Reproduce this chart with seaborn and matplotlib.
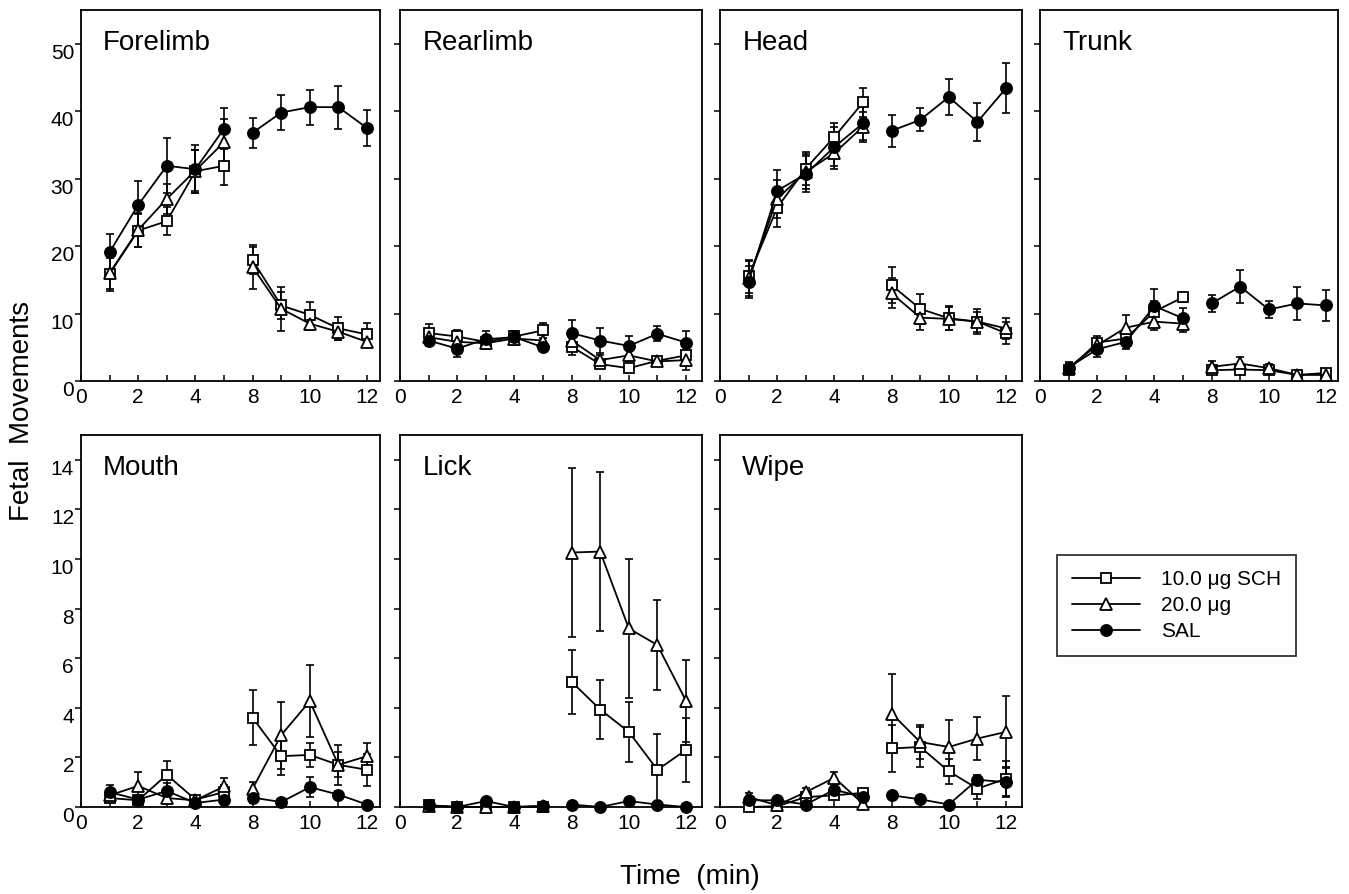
import numpy as np
import pandas as pd
import matplotlib
matplotlib.use("Agg")
import matplotlib.pyplot as plt
import seaborn as sns
from matplotlib.lines import Line2D

sns.set_style("ticks")
plt.rcParams['font.family'] = ['Liberation Sans', 'DejaVu Sans']
plt.rcParams['text.color'] = 'black'
plt.rcParams['axes.labelcolor'] = 'black'
plt.rcParams['xtick.color'] = 'black'
plt.rcParams['ytick.color'] = 'black'
plt.rcParams['axes.edgecolor'] = 'black'

# ---------------- data ----------------
times = [1, 2, 3, 4, 5, 8, 9, 10, 11, 12]
tick_labels = ["0", "2", "4", "8", "10", "12"]
tick_times = [0, 2, 4, 8, 10, 12]
groups = ["10.0 μg SCH", "20.0 μg", "SAL"]
panels = ["Forelimb", "Rearlimb", "Head", "Trunk", "Mouth", "Lick", "Wipe"]

forelimb_sch10 = [15.9, 22.3, 23.7, 31.1, 31.9, 17.9, 11.2, 9.8, 7.8, 6.9]
forelimb_sch10_err = [2.3, 2.5, 2.1, 3.2, 2.8, 2.0, 2.0, 1.9, 1.7, 1.7]
forelimb_sch20 = [16.0, 22.4, 27.0, 31.2, 35.4, 16.9, 10.7, 8.5, 7.3, 5.8]
forelimb_sch20_err = [2.6, 2.5, 2.2, 3.0, 3.5, 3.2, 3.3, 1.0, 1.2, 0.8]
forelimb_sal = [19.1, 26.1, 31.9, 31.4, 37.4, 36.8, 39.8, 40.6, 40.6, 37.5]
forelimb_sal_err = [2.7, 3.5, 4.1, 3.6, 3.0, 2.2, 2.6, 2.6, 3.2, 2.7]

rearlimb_sch10 = [7.1, 6.6, 5.8, 6.6, 7.5, 5.1, 2.5, 1.9, 3.0, 3.8]
rearlimb_sch10_err = [1.4, 1.0, 0.8, 0.8, 1.1, 1.3, 0.5, 0.5, 0.5, 1.2]
rearlimb_sch20 = [6.5, 5.8, 5.6, 6.3, 6.0, 6.0, 3.1, 3.8, 2.9, 3.1]
rearlimb_sch20_err = [1.0, 1.0, 0.8, 0.9, 0.8, 1.2, 0.8, 0.9, 0.6, 1.4]
rearlimb_sal = [6.0, 4.8, 6.2, 6.5, 5.0, 7.1, 6.0, 5.2, 7.0, 5.7]
rearlimb_sal_err = [0.8, 1.3, 1.2, 0.9, 0.5, 1.9, 1.8, 1.4, 1.1, 1.7]

head_sch10 = [15.5, 25.7, 31.5, 36.2, 41.3, 14.2, 10.7, 9.3, 8.8, 7.1]
head_sch10_err = [2.4, 2.8, 2.5, 2.1, 2.2, 2.7, 2.2, 1.8, 1.8, 1.6]
head_sch20 = [15.2, 27.0, 31.0, 33.8, 37.7, 13.0, 9.4, 9.2, 8.8, 7.8]
head_sch20_err = [2.6, 2.8, 2.6, 2.4, 2.2, 2.2, 1.8, 1.7, 1.5, 1.5]
head_sal = [14.7, 28.2, 30.7, 34.7, 38.2, 37.1, 38.7, 42.1, 38.4, 43.4]
head_sal_err = [2.4, 3.1, 2.7, 2.9, 2.5, 2.4, 1.7, 2.7, 2.8, 3.7]

trunk_sch10 = [1.7, 5.7, 6.3, 10.3, 12.4, 1.6, 1.7, 1.6, 0.9, 1.2]
trunk_sch10_err = [0.6, 1.0, 1.0, 1.5, 0.7, 0.5, 0.5, 0.5, 0.3, 0.4]
trunk_sch20 = [2.0, 5.3, 7.9, 8.8, 8.5, 2.1, 2.6, 1.9, 0.9, 0.9]
trunk_sch20_err = [0.7, 1.0, 1.9, 1.3, 1.3, 0.8, 1.0, 0.6, 0.3, 0.3]
trunk_sal = [2.0, 4.7, 5.8, 11.1, 9.3, 11.5, 14.0, 10.6, 11.5, 11.2]
trunk_sal_err = [0.8, 1.1, 1.0, 2.5, 1.5, 1.2, 2.5, 1.2, 2.4, 2.3]

mouth_sch10 = [0.36, 0.27, 1.3, 0.3, 0.6, 3.6, 2.05, 2.1, 1.7, 1.5]
mouth_sch10_err = [0.1, 0.1, 0.55, 0.1, 0.3, 1.1, 0.75, 0.5, 0.5, 0.65]
mouth_sch20 = [0.47, 0.85, 0.36, 0.27, 0.83, 0.74, 2.9, 4.27, 1.7, 2.05]
mouth_sch20_err = [0.2, 0.55, 0.1, 0.05, 0.35, 0.25, 1.35, 1.45, 0.8, 0.55]
mouth_sal = [0.6, 0.3, 0.65, 0.16, 0.3, 0.38, 0.2, 0.8, 0.5, 0.1]
mouth_sal_err = [0.3, 0.1, 0.3, 0.1, 0.15, 0.2, 0.1, 0.4, 0.15, 0.05]

lick_sch10 = [0.07, 0.0, 0.0, 0.0, 0.0, 5.05, 3.93, 3.03, 1.5, 2.3]
lick_sch10_err = [0.1, 0.05, 0.05, 0.05, 0.05, 1.3, 1.2, 1.2, 1.45, 1.3]
lick_sch20 = [0.05, 0.0, 0.0, 0.0, 0.05, 10.26, 10.3, 7.2, 6.53, 4.28]
lick_sch20_err = [0.1, 0.05, 0.05, 0.05, 0.1, 3.4, 3.2, 2.8, 1.8, 1.65]
lick_sal = [0.07, 0.0, 0.24, 0.0, 0.03, 0.1, 0.0, 0.24, 0.1, 0.0]
lick_sal_err = [0.05, 0.05, 0.05, 0.05, 0.05, 0.05, 0.05, 0.05, 0.05, 0.05]

wipe_sch10 = [0.0, 0.03, 0.4, 0.47, 0.57, 2.36, 2.42, 1.44, 0.74, 1.14]
wipe_sch10_err = [0.05, 0.05, 0.1, 0.15, 0.15, 0.95, 0.8, 0.5, 0.4, 0.7]
wipe_sch20 = [0.4, 0.07, 0.6, 1.18, 0.13, 3.77, 2.62, 2.42, 2.76, 3.03]
wipe_sch20_err = [0.15, 0.05, 0.15, 0.23, 0.05, 1.6, 0.7, 1.1, 0.87, 1.45]
wipe_sal = [0.27, 0.27, 0.1, 0.7, 0.4, 0.47, 0.31, 0.1, 1.1, 1.0]
wipe_sal_err = [0.1, 0.05, 0.05, 0.2, 0.1, 0.1, 0.1, 0.05, 0.2, 0.6]

series = {
    "Forelimb": [(forelimb_sch10, forelimb_sch10_err), (forelimb_sch20, forelimb_sch20_err), (forelimb_sal, forelimb_sal_err)],
    "Rearlimb": [(rearlimb_sch10, rearlimb_sch10_err), (rearlimb_sch20, rearlimb_sch20_err), (rearlimb_sal, rearlimb_sal_err)],
    "Head": [(head_sch10, head_sch10_err), (head_sch20, head_sch20_err), (head_sal, head_sal_err)],
    "Trunk": [(trunk_sch10, trunk_sch10_err), (trunk_sch20, trunk_sch20_err), (trunk_sal, trunk_sal_err)],
    "Mouth": [(mouth_sch10, mouth_sch10_err), (mouth_sch20, mouth_sch20_err), (mouth_sal, mouth_sal_err)],
    "Lick": [(lick_sch10, lick_sch10_err), (lick_sch20, lick_sch20_err), (lick_sal, lick_sal_err)],
    "Wipe": [(wipe_sch10, wipe_sch10_err), (wipe_sch20, wipe_sch20_err), (wipe_sal, wipe_sal_err)],
}


# broken time axis: minutes 6 and 7 are not shown
def time_to_pos(t):
    return t if t <= 5 else t - 2


rows = []
for p in panels:
    for g, (vals, errs) in zip(groups, series[p]):
        for t, v, e in zip(times, vals, errs):
            rows.append(dict(panel=p, group=g, time=t, pos=time_to_pos(t),
                             seg=0 if t <= 5 else 1, mean=v, err=e))
df = pd.DataFrame(rows)

style = {
    "10.0 μg SCH": dict(marker="s", markersize=7, markerfacecolor="white"),
    "20.0 μg": dict(marker="^", markersize=8.5, markerfacecolor="white"),
    "SAL": dict(marker="o", markersize=8, markerfacecolor="black"),
}

# ---------------- figure ----------------
W, H = 1349, 894
fig = plt.figure(figsize=(W / 100, H / 100), dpi=100)

col_lefts = [81, 400, 720, 1040]
col_widths = [299, 302, 302, 298]
row_box = {0: (10, 381), 1: (435, 807)}

for i, p in enumerate(panels):
    r, c = divmod(i, 4)
    top, bot = row_box[r]
    ax = fig.add_axes([col_lefts[c] / W, 1 - bot / H, col_widths[c] / W, (bot - top) / H])
    sub = df[df.panel == p]
    for g in groups:
        sg = sub[sub.group == g]
        ax.errorbar(sg["pos"], sg["mean"], yerr=sg["err"], fmt="none",
                    ecolor="black", elinewidth=1.2, capsize=3.2, capthick=1.2, zorder=2)
        sns.lineplot(data=sg, x="pos", y="mean", units="seg", estimator=None,
                     color="black", linewidth=1.3, markeredgecolor="black",
                     markeredgewidth=1.3, clip_on=False, zorder=3, ax=ax,
                     legend=False, **style[g])
    ax.set_xlim(0, col_widths[c] / 28.6)
    ax.set_xticks([time_to_pos(t) for t in tick_times])
    ax.set_xticklabels(tick_labels)
    ax.set_xticks(range(0, 11), minor=True)
    if r == 0:
        ax.set_ylim(0, 55)
        ax.set_yticks(range(0, 51, 10))
    else:
        ax.set_ylim(0, 15)
        ax.set_yticks(range(0, 15, 2))
    ax.set_xlabel("")
    ax.set_ylabel("")
    ax.tick_params(axis="x", which="both", direction="in", length=4, width=1.1,
                   labelsize=15, pad=5)
    ax.tick_params(axis="y", direction="out", length=4, width=1.1, labelsize=15, pad=1)
    if c != 0:
        ax.set_yticklabels([])
    else:
        for lbl in ax.get_yticklabels():
            lbl.set_verticalalignment("top")
    for s in ax.spines.values():
        s.set_linewidth(1.3)
        s.set_color("black")
    ax.text(0.074, 0.892, p, transform=ax.transAxes, fontsize=20, ha="left", va="baseline")

# legend
handles = [Line2D([], [], color="black", linewidth=1.3, markeredgecolor="black",
                  markeredgewidth=1.3, **style[g]) for g in groups]
leg = fig.legend(handles, groups, loc="lower left", bbox_to_anchor=(1057 / W, 1 - 656 / H),
                 frameon=True, fancybox=False, edgecolor="black", fontsize=15,
                 handlelength=3.3, handletextpad=1.0, labelspacing=0.35,
                 borderpad=0.7, borderaxespad=0)
leg.get_frame().set_linewidth(1.3)

fig.text(0.0163, 0.540, "Fetal  Movements", rotation=90, fontsize=20, ha="center", va="center")
fig.text(0.5115, 0.019, "Time  (min)", fontsize=20, ha="center", va="center")

fig.savefig("out.png", dpi=100)
